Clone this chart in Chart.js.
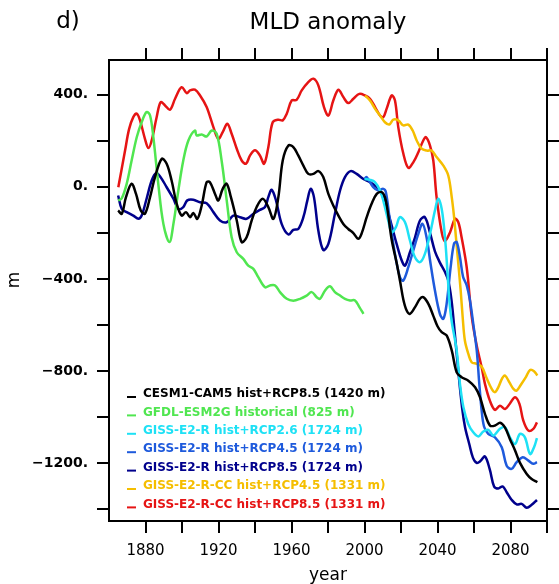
<!DOCTYPE html>
<html><head><meta charset="utf-8">
<script src="https://cdn.jsdelivr.net/npm/chart.js@4"></script>
<style>html,body{margin:0;padding:0;background:#fff;}canvas{display:block;}</style>
</head><body>
<canvas id="c" width="559" height="584"></canvas>
<script>
// ---- data ----
const seriesNames = [
  'CESM1-CAM5 hist+RCP8.5 (1420 m)',
  'GFDL-ESM2G historical (825 m)',
  'GISS-E2-R hist+RCP2.6 (1724 m)',
  'GISS-E2-R hist+RCP4.5 (1724 m)',
  'GISS-E2-R hist+RCP8.5 (1724 m)',
  'GISS-E2-R-CC hist+RCP4.5 (1331 m)',
  'GISS-E2-R-CC hist+RCP8.5 (1331 m)'
];
const seriesColors = ['#000000','#50e650','#1ee1f5','#1e5adc','#00008c','#f5be00','#e61414'];
const xTickValues = [1880,1900,1920,1940,1960,1980,2000,2020,2040,2060,2080,2100];
const xTickLabels = [1880,1920,1960,2000,2040,2080];
const yTickValues = [400,200,0,-200,-400,-600,-800,-1000,-1200,-1400];
const yTickLabels = [400,0,-400,-800,-1200];

const cesmCAM5 = [[1865,-103],[1867,-117],[1869.3,-45],[1872.4,13],[1874.8,-31],[1877.4,-103],[1879.7,-117],[1882.5,-45],[1885.2,42],[1888.9,121],[1891.6,100],[1894.3,27],[1897.1,-74],[1899.8,-125],[1902.2,-110],[1904.4,-132],[1906.2,-114],[1908.4,-139],[1910.8,-81],[1913.5,20],[1915.3,20],[1918.1,-31],[1919.9,-59],[1922.3,-9],[1924.5,13],[1926.8,-45],[1930,-146],[1932.7,-240],[1935.4,-219],[1938.2,-146],[1940.9,-88],[1944.2,-52],[1947.3,-88],[1950.1,-139],[1952.8,-45],[1955.2,114],[1958.3,179],[1961,172],[1963.7,136],[1966.5,92],[1969.2,56],[1972,56],[1974.7,68],[1977.4,42],[1980.2,-31],[1983.3,-88],[1985.7,-125],[1988.4,-161],[1991.1,-183],[1993.9,-201],[1996.6,-226],[1998.5,-201],[2001.2,-132],[2003.9,-74],[2006.7,-31],[2009.4,-23],[2011.2,-45],[2012.6,-100],[2014.9,-230],[2017.6,-330],[2019.5,-410],[2021.3,-490],[2023.1,-537],[2024.9,-551],[2027.7,-522],[2030.4,-486],[2032.2,-479],[2035,-508],[2037.7,-560],[2040,-605],[2042.3,-631],[2045,-645],[2047.8,-710],[2050.5,-805],[2053.2,-826],[2056.9,-841],[2060.6,-870],[2063.3,-913],[2066,-985],[2068.8,-1036],[2071.5,-1036],[2074.3,-1024],[2077,-1045],[2079.7,-1095],[2082.5,-1144],[2085.2,-1198],[2088.9,-1246],[2091.6,-1268],[2094.7,-1282]];

const gfdlESM2G = [[1865,-60],[1867,-50],[1869.7,13],[1872.4,114],[1875.2,215],[1877.9,280],[1880.6,324],[1882.5,309],[1884.3,215],[1887,13],[1889.8,-161],[1893.1,-240],[1895.3,-161],[1898,-16],[1900.7,114],[1903.5,201],[1907.1,244],[1908,223],[1910.8,227],[1913.5,218],[1916.3,244],[1919,230],[1921.7,114],[1924.5,-59],[1927.2,-219],[1930,-284],[1933.6,-313],[1936.3,-342],[1939.1,-356],[1941.8,-392],[1945.5,-436],[1948.2,-428],[1951,-428],[1953.7,-457],[1957.4,-486],[1961,-494],[1964.7,-486],[1968.3,-472],[1971.1,-457],[1973.8,-479],[1975.6,-486],[1978.4,-450],[1981.1,-432],[1983.8,-457],[1986.6,-472],[1989.3,-486],[1992.1,-493],[1994.8,-493],[1997.2,-522],[1999.4,-551]];

const gissRCP26 = [[2000,34],[2003,30],[2005.7,20],[2008.5,-16],[2010.3,-60],[2013,-146],[2014.9,-197],[2017.2,-175],[2019.4,-132],[2022.2,-154],[2024.9,-233],[2027.6,-305],[2030.4,-327],[2033.1,-291],[2035.9,-204],[2038.6,-103],[2040.4,-52],[2042.3,-96],[2044.1,-219],[2045.4,-363],[2046.5,-494],[2047.7,-580],[2050.5,-710],[2052.3,-855],[2054.2,-956],[2056.9,-1030],[2059.6,-1065],[2062.4,-1083],[2065.1,-1062],[2067.9,-1055],[2070.6,-1079],[2074.2,-1050],[2077,-1043],[2079.7,-1087],[2082.5,-1116],[2085.2,-1072],[2087.9,-1087],[2090.7,-1159],[2092.9,-1130],[2094.5,-1090]];

const gissRCP45 = [[2000,34],[2001.2,42],[2004.8,-2],[2007.5,-16],[2010.3,-9],[2011.7,-23],[2013.9,-146],[2016.7,-291],[2019.4,-392],[2021.2,-407],[2024,-349],[2026.7,-277],[2029.5,-204],[2031.8,-161],[2034,-219],[2036.2,-334],[2038.6,-450],[2041.3,-551],[2043.2,-573],[2045,-508],[2047.2,-349],[2049,-248],[2050.5,-240],[2052.3,-305],[2054,-390],[2056,-428],[2057.8,-493],[2059.6,-595],[2061.5,-710],[2062.9,-855],[2064.2,-971],[2065.5,-1040],[2067.8,-1072],[2071.5,-1087],[2075.2,-1130],[2077.9,-1210],[2080.6,-1224],[2083.4,-1195],[2086.7,-1173],[2089.8,-1188],[2092.5,-1202],[2094.5,-1195]];

const gissRCP85 = [[1865,-38],[1867,-96],[1869.7,-110],[1873.3,-125],[1876.1,-139],[1877.9,-125],[1880.6,-52],[1883.4,27],[1885.8,59],[1888,45],[1891.6,-2],[1895.3,-52],[1898,-96],[1900.7,-88],[1902.9,-59],[1906.2,-56],[1909.9,-67],[1913.5,-71],[1917.2,-110],[1920.8,-146],[1924.5,-154],[1928.1,-125],[1931.8,-132],[1935.4,-139],[1939.1,-117],[1942.7,-100],[1945.5,-88],[1947.3,-45],[1949.1,-13],[1951.5,-59],[1954.6,-161],[1958.3,-207],[1961,-187],[1963.7,-183],[1966.5,-132],[1968.7,-59],[1970.5,-9],[1972.3,-45],[1974.7,-190],[1977.4,-274],[1980.2,-248],[1983.8,-117],[1986.6,-16],[1989.3,42],[1992.4,68],[1995.7,56],[1999.4,34],[2003,20],[2006.7,-2],[2009.4,-31],[2012.1,-88],[2014.9,-168],[2017.6,-248],[2020.4,-320],[2022.2,-342],[2024.9,-284],[2027.7,-219],[2030.4,-146],[2033.1,-132],[2035.9,-200],[2038.6,-280],[2041.4,-330],[2044.1,-370],[2045.9,-407],[2047.7,-494],[2049.4,-630],[2051.4,-800],[2053.5,-960],[2055.1,-1043],[2057.4,-1116],[2059.4,-1175],[2061.5,-1198],[2063.5,-1190],[2066,-1170],[2068.6,-1225],[2071,-1300],[2073.3,-1309],[2075.7,-1300],[2077.9,-1325],[2080.6,-1358],[2083.4,-1378],[2086.1,-1376],[2088.9,-1393],[2091.6,-1380],[2094.5,-1359]];

const giss_ccRCP45 = [[2000.3,396],[2003,374],[2005.8,338],[2008.5,309],[2011.2,280],[2013.6,270],[2015.8,291],[2018.5,288],[2021.3,266],[2024,270],[2026.4,244],[2028.6,201],[2031.3,165],[2034.1,157],[2036.8,157],[2039.5,129],[2043.2,92],[2045.9,49],[2047.8,-45],[2049,-125],[2050.1,-219],[2051.4,-334],[2052.7,-450],[2053.8,-566],[2055,-667],[2056.9,-725],[2058.7,-761],[2061.5,-768],[2064.2,-780],[2066.9,-830],[2069.7,-877],[2071.5,-891],[2073.3,-870],[2075.5,-830],[2077,-819],[2079.5,-850],[2081.6,-877],[2083.4,-884],[2085.6,-860],[2088.5,-825],[2090.7,-795],[2092.9,-800],[2094.7,-819]];

const giss_ccRCP85 = [[1865.1,-2],[1868.8,157],[1871,250],[1873.3,302],[1875.2,317],[1877,288],[1879.7,208],[1881.6,168],[1883.4,201],[1886.1,302],[1888.3,367],[1890.7,353],[1893.4,334],[1896.2,382],[1899.8,432],[1902.6,406],[1904.4,418],[1907.1,421],[1909.9,396],[1913.5,346],[1917.2,259],[1919.9,208],[1922.3,237],[1924.8,273],[1927.2,230],[1930,165],[1932.7,114],[1935.1,100],[1937.3,136],[1940,158],[1942.7,136],[1945,100],[1947.3,172],[1949.7,280],[1952.8,291],[1955.2,288],[1957.4,317],[1960.1,374],[1962.8,377],[1965.6,418],[1969.2,454],[1972,469],[1974.7,440],[1977.8,346],[1980.2,309],[1982.9,374],[1985.7,421],[1988.4,389],[1991.1,363],[1993.9,382],[1997.2,403],[2000.3,396],[2003,382],[2005.8,346],[2008.5,309],[2010.3,302],[2012.1,338],[2014.9,396],[2016.7,374],[2018.5,259],[2021.3,143],[2024,82],[2026.8,107],[2029.5,150],[2032.2,201],[2033.7,215],[2035.9,179],[2037.7,114],[2039.5,-45],[2042.3,-197],[2044.1,-236],[2046.9,-197],[2049.6,-139],[2051.4,-154],[2053.2,-219],[2056,-349],[2058.7,-560],[2061.5,-690],[2064.2,-783],[2066,-855],[2068.8,-930],[2071.5,-968],[2074.2,-950],[2077,-964],[2079.7,-940],[2082.5,-913],[2084.9,-942],[2087,-1014],[2089.8,-1058],[2092.5,-1050],[2094.5,-1022]];

const seriesData = [cesmCAM5, gfdlESM2G, gissRCP26, gissRCP45, gissRCP85, giss_ccRCP45, giss_ccRCP85];

// ---- chart ----
const datasets = seriesData.map((arr, i) => ({
  label: seriesNames[i],
  data: arr.map(p => ({x: p[0], y: p[1]})),
  borderColor: seriesColors[i],
  backgroundColor: seriesColors[i],
  borderWidth: 2.5,
  pointRadius: 0,
  tension: 0.35,
  fill: false
}));

const edgeTickGrid = {drawOnChartArea: false, drawTicks: true, tickLength: 12, color: '#000', lineWidth: 2};
const edgeBorder = {display: true, color: '#000', width: 2};
const setXTicks = s => { s.ticks = xTickValues.map(v => ({value: v})); };
const setYTicks = s => { s.ticks = yTickValues.map(v => ({value: v})); };
const fmtY = v => (v < 0 ? '\u2212' + String(-v) : String(v)) + '.';

const textPlugin = {
  id: 'texts',
  afterDraw(chart) {
    const ctx = chart.ctx;
    ctx.save();
    ctx.fillStyle = '#000';
    ctx.textBaseline = 'middle';
    ctx.textAlign = 'center';
    ctx.font = '23px "DejaVu Sans"';
    ctx.fillText('MLD anomaly', 328, 23);
    ctx.fillText('d)', 68, 22);
    ctx.save();
    ctx.translate(15, 280);
    ctx.rotate(-Math.PI / 2);
    ctx.font = '17px "DejaVu Sans"';
    ctx.fillText('m', 0, 0);
    ctx.restore();
    // legend
    ctx.font = 'bold 12px "DejaVu Sans"';
    ctx.textAlign = 'left';
    seriesNames.forEach((name, i) => {
      const y = 394 + i * 18.4;
      ctx.strokeStyle = seriesColors[i];
      ctx.lineWidth = 2;
      ctx.beginPath();
      ctx.moveTo(127, y + 3);
      ctx.lineTo(136, y + 3);
      ctx.stroke();
      ctx.fillStyle = seriesColors[i];
      ctx.fillText(name, 143, y);
    });
    ctx.restore();
  }
};

new Chart(document.getElementById('c'), {
  type: 'line',
  data: {datasets},
  options: {
    responsive: false,
    animation: false,
    events: [],
    layout: {padding: {top: 48, left: 0, right: 0, bottom: 0}},
    plugins: {legend: {display: false}, tooltip: {enabled: false}, title: {display: false}},
    scales: {
      x: {
        type: 'linear', position: 'bottom', min: 1860, max: 2100,
        afterBuildTicks: setXTicks,
        afterFit: s => { s.height = 63; },
        ticks: {color: '#000', padding: 9, maxRotation: 0, autoSkip: false,
          font: {family: '"DejaVu Sans"', size: 15},
          callback: v => (xTickLabels.includes(v) ? String(v) : '')},
        grid: edgeTickGrid, border: edgeBorder,
        title: {display: true, text: 'year', color: '#000', font: {family: '"DejaVu Sans"', size: 17, lineHeight: 1}, padding: 0}
      },
      x2: {
        type: 'linear', position: 'top', min: 1860, max: 2100,
        afterBuildTicks: setXTicks,
        afterFit: s => { s.height = 12; },
        ticks: {display: false},
        grid: edgeTickGrid, border: edgeBorder
      },
      y: {
        type: 'linear', position: 'left', min: -1450, max: 550,
        afterBuildTicks: setYTicks,
        afterFit: s => { s.width = 109; },
        ticks: {color: '#000', padding: 9, autoSkip: false,
          font: {family: '"DejaVu Sans"', size: 14, weight: 'bold'},
          callback: v => (yTickLabels.includes(v) ? fmtY(v) : '')},
        grid: edgeTickGrid, border: edgeBorder
      },
      y2: {
        type: 'linear', position: 'right', min: -1450, max: 550,
        afterBuildTicks: setYTicks,
        afterFit: s => { s.width = 12; },
        ticks: {display: false},
        grid: edgeTickGrid, border: edgeBorder
      }
    }
  },
  plugins: [textPlugin]
});
</script>
</body></html>
